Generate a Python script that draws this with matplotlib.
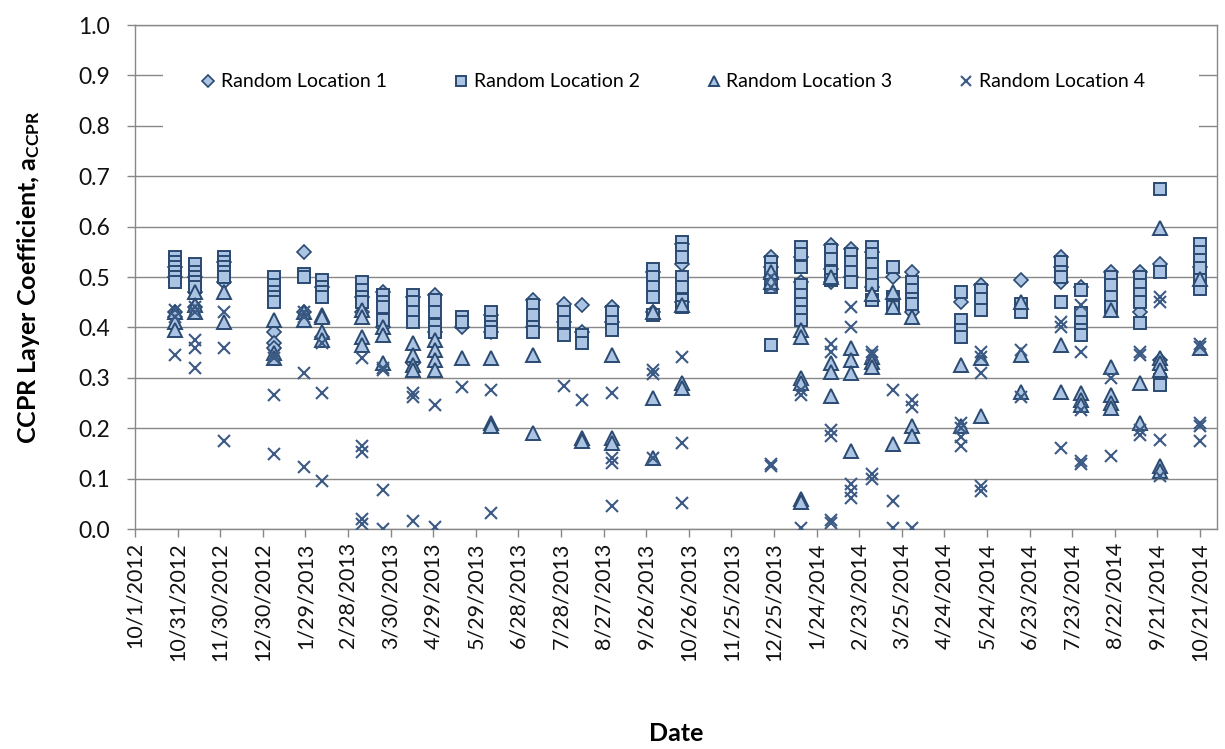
import numpy as np
import pandas as pd
import matplotlib
matplotlib.use("Agg")
import matplotlib.pyplot as plt
from matplotlib.patches import Rectangle

plt.rcParams['font.family'] = ['Lato', 'DejaVu Sans']
plt.rcParams['mathtext.fontset'] = 'custom'
plt.rcParams['mathtext.rm'] = 'Lato'
plt.rcParams['mathtext.bf'] = 'Lato:bold'

# survey dates
dates = ['2012-10-29', '2012-11-12', '2012-12-03', '2013-01-07', '2013-01-28',
         '2013-02-10', '2013-03-10', '2013-03-25', '2013-04-15', '2013-04-30',
         '2013-05-19', '2013-06-09', '2013-07-08', '2013-07-30', '2013-08-12',
         '2013-09-02', '2013-10-01', '2013-10-21', '2013-12-23', '2014-01-13',
         '2014-02-03', '2014-02-17', '2014-03-04', '2014-03-19', '2014-04-01',
         '2014-05-06', '2014-05-20', '2014-06-17', '2014-07-15', '2014-07-29',
         '2014-08-19', '2014-09-09', '2014-09-23', '2014-10-21']

# layer coefficients measured on each date, one list per date
loc1 = [[0.52, 0.50, 0.43, 0.42], [0.50, 0.47, 0.44], [0.53, 0.49], [0.39, 0.37, 0.36],
        [0.55, 0.43], [0.48, 0.38], [0.46, 0.43], [0.47, 0.40], [0.46, 0.33],
        [0.465, 0.39], [0.40], [0.425, 0.39], [0.455, 0.40], [0.447, 0.41],
        [0.445, 0.39], [0.44, 0.41], [0.51, 0.43], [0.565, 0.525, 0.45],
        [0.54, 0.52, 0.50], [0.54, 0.49], [0.563, 0.515, 0.49], [0.555, 0.50],
        [0.55, 0.48], [0.50], [0.51, 0.43], [0.45], [0.485], [0.495],
        [0.54, 0.52, 0.49], [0.48], [0.51], [0.51, 0.43], [0.525, 0.335], [0.52]]
loc2 = [[0.54, 0.53, 0.52, 0.51, 0.50, 0.49], [0.525, 0.51, 0.50, 0.49, 0.48],
        [0.54, 0.53, 0.52, 0.51, 0.50], [0.50, 0.485, 0.47, 0.46, 0.45], [0.505, 0.50],
        [0.495, 0.48, 0.47, 0.46], [0.49, 0.475, 0.46, 0.45], [0.465, 0.45, 0.44, 0.415],
        [0.465, 0.45, 0.43, 0.41], [0.455, 0.43, 0.405, 0.39], [0.42, 0.41],
        [0.43, 0.41, 0.40, 0.39], [0.445, 0.425, 0.40, 0.39], [0.43, 0.41, 0.385],
        [0.385, 0.37], [0.43, 0.41, 0.395], [0.515, 0.50, 0.48, 0.46, 0.425],
        [0.57, 0.555, 0.54, 0.50, 0.48, 0.455, 0.44], [0.53, 0.515, 0.495, 0.48, 0.365],
        [0.56, 0.545, 0.52, 0.485, 0.465, 0.447, 0.43, 0.415], [0.553, 0.535, 0.51, 0.495],
        [0.545, 0.53, 0.51, 0.49], [0.56, 0.545, 0.525, 0.505, 0.485, 0.455],
        [0.52, 0.46, 0.44], [0.49, 0.474, 0.457, 0.447], [0.47, 0.414, 0.395, 0.38],
        [0.475, 0.457, 0.435], [0.447, 0.43], [0.53, 0.51, 0.50, 0.45],
        [0.474, 0.428, 0.411, 0.395, 0.385], [0.50, 0.484, 0.46, 0.44],
        [0.50, 0.484, 0.467, 0.45, 0.408], [0.675, 0.51, 0.295, 0.285],
        [0.565, 0.55, 0.533, 0.517, 0.494, 0.477]]
loc3 = [[0.43, 0.41, 0.395], [0.47, 0.445, 0.43], [0.47, 0.41], [0.415, 0.35, 0.34],
        [0.43, 0.415], [0.425, 0.42, 0.39, 0.375], [0.435, 0.42, 0.38, 0.365],
        [0.40, 0.385, 0.33], [0.37, 0.345, 0.325, 0.315], [0.375, 0.355, 0.335, 0.315],
        [0.34], [0.34, 0.21, 0.205], [0.345, 0.19], [], [0.18, 0.175],
        [0.345, 0.18, 0.17], [0.43, 0.26, 0.14], [0.445, 0.29, 0.28], [0.51, 0.49],
        [0.395, 0.38, 0.30, 0.29, 0.06, 0.053], [0.50, 0.33, 0.312, 0.263],
        [0.36, 0.335, 0.31, 0.155], [0.467, 0.342, 0.332, 0.322], [0.47, 0.44, 0.168],
        [0.42, 0.205, 0.185], [0.325, 0.205], [0.34, 0.225], [0.45, 0.345, 0.272],
        [0.365, 0.272], [0.27, 0.256, 0.246], [0.434, 0.322, 0.265, 0.25, 0.24],
        [0.29, 0.21], [0.597, 0.34, 0.33, 0.315, 0.125, 0.115], [0.497, 0.36]]
loc4 = [[0.435, 0.42, 0.345], [0.44, 0.43, 0.375, 0.36, 0.32], [0.43, 0.36, 0.175],
        [0.345, 0.34, 0.265, 0.148], [0.43, 0.42, 0.31, 0.124], [0.37, 0.27, 0.095],
        [0.34, 0.165, 0.152, 0.02, 0.01], [0.32, 0.315, 0.078, 0.0],
        [0.27, 0.262, 0.015], [0.247, 0.003], [0.282], [0.275, 0.032], [], [0.283],
        [0.255], [0.27, 0.14, 0.13, 0.045], [0.315, 0.308, 0.14], [0.342, 0.17, 0.052],
        [0.50, 0.48, 0.128, 0.125], [0.276, 0.265, 0.002],
        [0.368, 0.352, 0.197, 0.185, 0.018, 0.012], [0.44, 0.40, 0.09, 0.075, 0.062],
        [0.352, 0.345, 0.11, 0.1], [0.276, 0.055, 0.002], [0.256, 0.243, 0.002],
        [0.21, 0.20, 0.183, 0.165], [0.352, 0.342, 0.31, 0.085, 0.075], [0.355, 0.262],
        [0.41, 0.40, 0.16], [0.444, 0.352, 0.236, 0.134, 0.128], [0.30, 0.145],
        [0.352, 0.345, 0.197, 0.187], [0.46, 0.45, 0.176, 0.105],
        [0.368, 0.362, 0.21, 0.205, 0.174]]

names = ['Random Location 1', 'Random Location 2', 'Random Location 3', 'Random Location 4']


def flatten(series):
    xs, ys = [], []
    for d, vals in zip(dates, series):
        for v in vals:
            xs.append(pd.Timestamp(d))
            ys.append(v)
    return xs, ys


fill = '#abc4e3'
edge = '#2b4a72'

fig = plt.figure(figsize=(12.25, 7.49), dpi=100)
ax = fig.add_axes([135 / 1225, 1 - 529 / 749, (1217 - 135) / 1225, (529 - 25) / 749])

styles = [dict(marker='D', ms=7.5, mfc=fill, mec=edge, mew=1.2),
          dict(marker='s', ms=8.5, mfc=fill, mec=edge, mew=1.4),
          dict(marker='^', ms=9.5, mfc=fill, mec=edge, mew=1.4),
          dict(marker='x', ms=9.0, mfc='none', mec='#3b5a84', mew=1.5)]

for series, name, st in zip([loc1, loc2, loc3, loc4], names, styles):
    xs, ys = flatten(series)
    ax.plot(xs, ys, linestyle='none', label=name, zorder=3, **st)

# axis ranges and ticks
ax.set_ylim(0, 1.0)
ax.set_yticks(np.arange(0, 1.01, 0.1))
ax.yaxis.set_major_formatter(plt.FormatStrFormatter('%.1f'))
ax.set_xlim(pd.Timestamp('2012-10-01'), pd.Timestamp('2014-11-02'))
ticks = pd.date_range('2012-10-01', periods=26, freq='30D')
ax.set_xticks(ticks)
ax.set_xticklabels([f'{t.month}/{t.day}/{t.year}' for t in ticks], rotation=90)

grid_col = '#888888'
ax.yaxis.grid(True, color=grid_col, linewidth=1.0)
ax.set_axisbelow(True)
for s in ax.spines.values():
    s.set_color(grid_col)
    s.set_linewidth(1.0)
ax.tick_params(axis='x', colors=grid_col, length=6, width=1.0,
               labelsize=15.5, labelcolor='#111111')
ax.tick_params(axis='y', colors=grid_col, length=6, width=1.0, pad=12,
               labelsize=16.5, labelcolor='#111111')

ax.set_ylabel(r'CCPR Layer Coefficient, $\mathbf{a_{CCPR}}$', fontsize=18,
              fontweight='bold', labelpad=26)
ax.set_xlabel('Date', fontsize=18, fontweight='bold', labelpad=44)

# white panel behind the legend
ax.add_patch(Rectangle(((163 - 135) / 1082, 0.765), (1199 - 163) / 1082, 0.16,
                       transform=ax.transAxes, facecolor='white', edgecolor='none',
                       zorder=1))

leg = ax.legend(loc='center', bbox_to_anchor=(0.497, 0.887), ncol=4, frameon=False,
                fontsize=14, handlelength=0.8, handletextpad=0.25,
                columnspacing=3.4, markerscale=0.8)

fig.savefig('out.png', dpi=100)
